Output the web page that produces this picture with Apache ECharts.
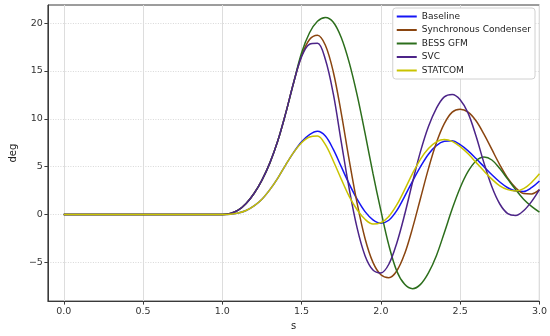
<!DOCTYPE html>
<html><head><meta charset="utf-8">
<script src="https://cdn.jsdelivr.net/npm/echarts@6/dist/echarts.min.js"></script>
<style>html,body{margin:0;padding:0;background:#fff}#c{width:550px;height:336px}</style>
</head><body><div id="c"></div>
<script>
var time = [0, 0.5, 0.95, 1.0, 1.05, 1.1, 1.15, 1.2, 1.25, 1.3, 1.35, 1.4, 1.45, 1.5, 1.55, 1.6, 1.65, 1.7, 1.75, 1.8, 1.85, 1.9, 1.95, 2.0, 2.05, 2.1, 2.15, 2.2, 2.25, 2.3, 2.35, 2.4, 2.45, 2.5, 2.55, 2.6, 2.65, 2.7, 2.75, 2.8, 2.85, 2.9, 2.95, 3.0];
var baseline = [0, 0, 0, 0, 0.02, 0.15, 0.42, 0.9, 1.6, 2.6, 3.8, 5.2, 6.5, 7.6, 8.35, 8.7, 8.2, 6.8, 5.0, 3.2, 1.6, 0.3, -0.55, -0.9, -0.6, 0.4, 1.9, 3.5, 5.0, 6.3, 7.2, 7.65, 7.7, 7.3, 6.65, 5.85, 5.0, 4.15, 3.4, 2.8, 2.45, 2.4, 2.8, 3.5];
var syncCond = [0, 0, 0, 0, 0.1, 0.45, 1.15, 2.2, 3.6, 5.4, 7.7, 10.6, 13.8, 16.6, 18.3, 18.75, 17.7, 14.9, 10.6, 5.7, 1.2, -2.5, -5.0, -6.3, -6.6, -5.9, -4.1, -1.4, 1.7, 4.8, 7.5, 9.5, 10.7, 11.0, 10.7, 9.8, 8.4, 6.8, 5.2, 3.8, 2.8, 2.2, 2.15, 2.6];
var bessGfm = [0, 0, 0, 0, 0.1, 0.45, 1.15, 2.2, 3.6, 5.4, 7.7, 10.6, 13.8, 16.9, 19.0, 20.2, 20.6, 20.1, 18.5, 15.9, 12.5, 8.5, 4.3, 0.4, -3.2, -5.9, -7.3, -7.75, -7.3, -6.1, -4.3, -1.9, 0.6, 2.8, 4.5, 5.6, 6.0, 5.7, 4.8, 3.7, 2.6, 1.6, 0.85, 0.25];
var svc = [0, 0, 0, 0, 0.1, 0.45, 1.15, 2.2, 3.6, 5.4, 7.7, 10.6, 13.8, 16.5, 17.8, 17.9, 16.2, 12.6, 7.6, 2.7, -1.4, -4.3, -5.8, -6.1, -5.2, -3.0, 0.0, 3.4, 6.6, 9.2, 11.1, 12.3, 12.55, 12.0, 10.6, 8.2, 5.4, 2.9, 1.1, 0.1, -0.1, 0.4, 1.35, 2.6];
var statcom = [0, 0, 0, 0, 0.02, 0.15, 0.42, 0.9, 1.6, 2.6, 3.8, 5.2, 6.5, 7.5, 8.1, 8.2, 7.3, 5.6, 3.7, 1.9, 0.5, -0.5, -1.0, -0.85, -0.2, 1.0, 2.6, 4.3, 5.8, 6.9, 7.6, 7.85, 7.65, 7.1, 6.35, 5.45, 4.55, 3.7, 3.0, 2.6, 2.45, 2.7, 3.35, 4.25];
var seriesNames = ['Baseline', 'Synchronous Condenser', 'BESS GFM', 'SVC', 'STATCOM'];
var xTicks = [0, 0.5, 1.0, 1.5, 2.0, 2.5, 3.0];
var yTicks = [-5, 0, 5, 10, 15, 20];

var colors = ['#1515f5', '#8a4510', '#2c6e1c', '#4c2488', '#c9c300'];
var seriesData = [baseline, syncCond, bessGfm, svc, statcom];
function pairs(ys) { return time.map(function (t, i) { return [t, ys[i]]; }); }
var font = 'DejaVu Sans';
var chart = echarts.init(document.getElementById('c'), null, { renderer: 'canvas' });
var series = seriesNames.map(function (n, i) {
  return {
    name: n, type: 'line', data: pairs(seriesData[i]), smooth: 0.35, symbol: 'none',
    lineStyle: { color: colors[i], width: 1.5 }, itemStyle: { color: colors[i] }, z: 3 + i
  };
});
chart.setOption({
  animation: false,
  grid: { left: 36, right: 10, top: 5, bottom: 31, show: true, borderColor: '#3a3a3a', borderWidth: 1, backgroundColor: 'transparent' },
  legend: {
    data: seriesNames, orient: 'vertical', right: 15, top: 8, itemWidth: 20, itemHeight: 2, itemGap: 2.5,
    icon: 'rect',
    lineStyle: { width: 1.6 },
    backgroundColor: '#fff', borderColor: '#d0d0d0', borderWidth: 1, borderRadius: 3, padding: [3, 4, 3, 4],
    textStyle: { fontFamily: font, fontSize: 9, color: '#222', lineHeight: 11 }
  },
  xAxis: {
    type: 'value', min: -0.1, max: 3.0, name: 's', nameLocation: 'middle', nameGap: 17,
    nameTextStyle: { fontFamily: font, fontSize: 10, color: '#222' },
    axisLine: { show: true, onZero: false, lineStyle: { color: '#3a3a3a' } },
    axisTick: { show: true, length: 3.5, customValues: xTicks, lineStyle: { color: '#3a3a3a' } },
    axisLabel: { customValues: xTicks, fontFamily: font, fontSize: 9.5, color: '#333', margin: 5, formatter: function (v) { return v.toFixed(1); } },
    splitLine: { show: true, lineStyle: { color: '#dddddd', width: 1 } }
  },
  yAxis: {
    type: 'value', min: -9.05, max: 21.9, name: 'deg', nameLocation: 'middle', nameGap: 27,
    nameTextStyle: { fontFamily: font, fontSize: 10, color: '#222' },
    axisLine: { show: true, onZero: false, lineStyle: { color: '#3a3a3a' } },
    axisTick: { show: true, length: 3.5, customValues: yTicks, lineStyle: { color: '#3a3a3a' } },
    axisLabel: { customValues: yTicks, fontFamily: font, fontSize: 9.5, color: '#333', margin: 5, formatter: function (v) { return v < 0 ? '\u2212' + Math.abs(v) : String(v); } },
    splitLine: { show: true, lineStyle: { color: '#d8d8d8', width: 1, type: [1, 1.5] } }
  },
  series: series
});
</script></body></html>
